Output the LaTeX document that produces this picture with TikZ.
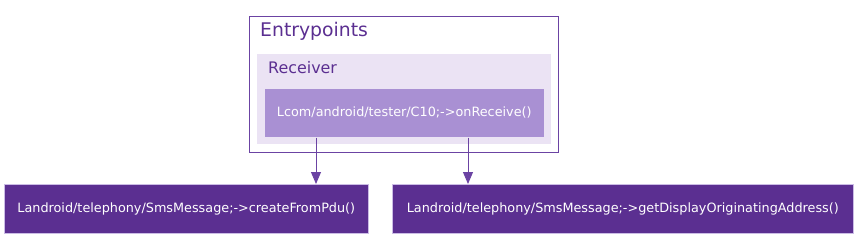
\documentclass[tikz,border=0pt]{standalone}
\usepackage{fontspec}
\setmainfont{DejaVu Sans}
\usetikzlibrary{arrows.meta}
\definecolor{dpurple}{HTML}{5B2F91}
\definecolor{mpurple}{HTML}{A990D3}
\definecolor{lpurple}{HTML}{EBE3F4}
\definecolor{bpurple}{HTML}{6B43A3}
\definecolor{tpurple}{HTML}{5B2F91}
\tikzset{
  callbox/.style={draw=mpurple!60!white, line width=0.6pt, fill=dpurple, text=white, font=\fontsize{12.8}{14}\selectfont, inner sep=0pt},
  entrybox/.style={fill=mpurple, draw=lpurple, line width=0.6pt, text=white, font=\fontsize{12.8}{14}\selectfont, inner sep=0pt},
  link/.style={draw=bpurple, line width=0.9pt, -{Triangle[length=12pt,width=10pt]}},
}
\begin{document}
\begin{tikzpicture}[x=1pt,y=-1pt]
\useasboundingbox (0,0) rectangle (858,239);
% clusters
\node[draw=bpurple, line width=0.9pt, minimum width=309pt, minimum height=136pt, anchor=north west, inner sep=0pt] (cluster) at (249,16) {};
\node[anchor=base west, text=tpurple, font=\fontsize{18.8}{20}\selectfont, inner sep=0pt] (clustertitle) at (260,36) {Entrypoints};
\node[fill=lpurple, minimum width=294pt, minimum height=90pt, anchor=north west, inner sep=0pt] (receiver) at (257,54) {};
\node[anchor=base west, text=tpurple, font=\fontsize{15.9}{17}\selectfont, inner sep=0pt] (receivertitle) at (268,73) {Receiver};
% nodes
\node[entrybox, minimum width=280pt, minimum height=49pt, anchor=north west] (recv) at (264,88) {Lcom/android/tester/C10;->onReceive()};
\node[callbox, minimum width=364pt, minimum height=49pt, anchor=north west] (pdu) at (4,184) {Landroid/telephony/SmsMessage;->createFromPdu()};
\node[callbox, minimum width=461pt, minimum height=49pt, anchor=north west] (addr) at (392,184) {Landroid/telephony/SmsMessage;->getDisplayOriginatingAddress()};
% connectors
\draw[link] (recv.south -| 316,0) -- (pdu.north -| 316,0);
\draw[link] (recv.south -| 468,0) -- (addr.north -| 468,0);
\end{tikzpicture}
\end{document}
